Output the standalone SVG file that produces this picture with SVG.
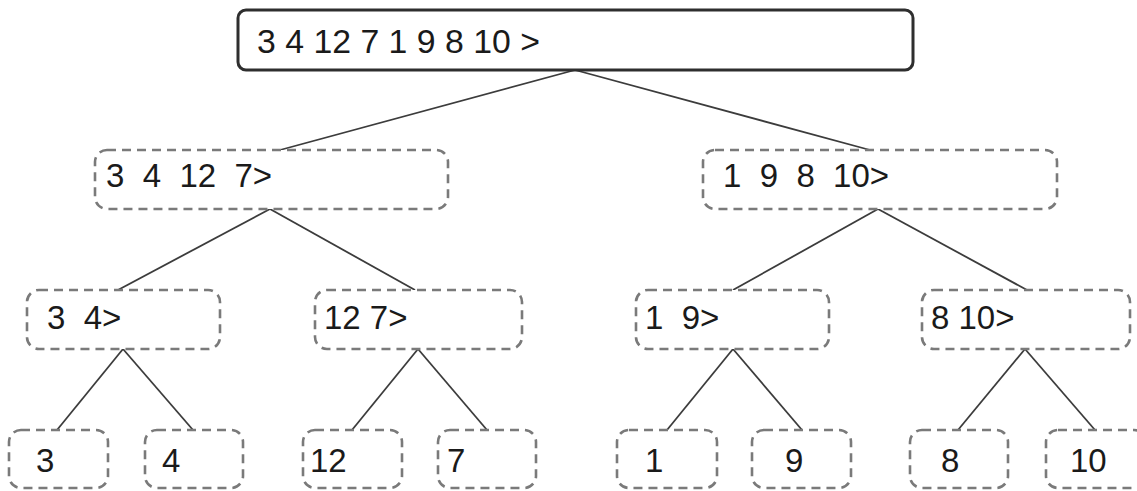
<svg xmlns="http://www.w3.org/2000/svg" width="1137" height="491" viewBox="0 0 1137 491">
  <style>
    .bg { fill: #ffffff; }
    .root { fill: #ffffff; stroke: #2e2e2e; stroke-width: 3; }
    .part { fill: #ffffff; stroke: #7a7a7a; stroke-width: 2.6; stroke-dasharray: 9 6; }
    .lbl { font-family: "Liberation Sans", Arial, sans-serif; font-size: 33px; fill: #1a1a1a; white-space: pre; }
    .edge { stroke: #3c3c3c; stroke-width: 1.8; fill: none; }
  </style>
  <rect class="bg" x="0" y="0" width="1137" height="491"/>

  <!-- edges of the split tree -->
  <g id="connectors">
    <line class="edge" x1="575" y1="70" x2="280" y2="150"/>
    <line class="edge" x1="575" y1="70" x2="870" y2="150"/>
    <line class="edge" x1="270" y1="209" x2="118" y2="290"/>
    <line class="edge" x1="270" y1="209" x2="415" y2="290"/>
    <line class="edge" x1="878" y1="209" x2="733" y2="290"/>
    <line class="edge" x1="878" y1="209" x2="1027" y2="290"/>
    <line class="edge" x1="123" y1="349" x2="57" y2="430"/>
    <line class="edge" x1="123" y1="349" x2="193" y2="430"/>
    <line class="edge" x1="418" y1="349" x2="352" y2="430"/>
    <line class="edge" x1="418" y1="349" x2="487" y2="430"/>
    <line class="edge" x1="733" y1="349" x2="667" y2="430"/>
    <line class="edge" x1="733" y1="349" x2="802" y2="430"/>
    <line class="edge" x1="1025" y1="349" x2="958" y2="430"/>
    <line class="edge" x1="1025" y1="349" x2="1095" y2="430"/>
  </g>

  <!-- full sequence -->
  <g id="n-root">
    <rect class="root" x="238" y="10" width="675" height="60" rx="8"/>
    <text class="lbl" x="257" y="53" font-size="35" textLength="283" lengthAdjust="spacingAndGlyphs">3 4 12 7 1 9 8 10 &gt;</text>
  </g>

  <!-- first split -->
  <g id="n-3-4-12-7">
    <rect class="part" x="95" y="150" width="353" height="59" rx="12"/>
    <text class="lbl" x="106" y="187">3  4  12  7&gt;</text>
  </g>
  <g id="n-1-9-8-10">
    <rect class="part" x="703" y="150" width="354" height="59" rx="12"/>
    <text class="lbl" x="723" y="187">1  9  8  10&gt;</text>
  </g>

  <!-- second split -->
  <g id="n-3-4">
    <rect class="part" x="27" y="290" width="193" height="59" rx="12"/>
    <text class="lbl" x="47" y="329">3  4&gt;</text>
  </g>
  <g id="n-12-7">
    <rect class="part" x="315" y="290" width="207" height="59" rx="12"/>
    <text class="lbl" x="324" y="329">12 7&gt;</text>
  </g>
  <g id="n-1-9">
    <rect class="part" x="636" y="290" width="193" height="59" rx="12"/>
    <text class="lbl" x="645" y="329">1  9&gt;</text>
  </g>
  <g id="n-8-10">
    <rect class="part" x="922" y="290" width="208" height="59" rx="12"/>
    <text class="lbl" x="931" y="329">8 10&gt;</text>
  </g>

  <!-- single elements -->
  <g id="n-3">
    <rect class="part" x="9" y="430" width="99" height="58" rx="12"/>
    <text class="lbl" x="36" y="472">3</text>
  </g>
  <g id="n-4">
    <rect class="part" x="145" y="430" width="98" height="58" rx="12"/>
    <text class="lbl" x="162" y="472">4</text>
  </g>
  <g id="n-12">
    <rect class="part" x="303" y="430" width="99" height="58" rx="12"/>
    <text class="lbl" x="310" y="472">12</text>
  </g>
  <g id="n-7">
    <rect class="part" x="438" y="430" width="98" height="58" rx="12"/>
    <text class="lbl" x="447" y="472">7</text>
  </g>
  <g id="n-1">
    <rect class="part" x="617" y="430" width="100" height="58" rx="12"/>
    <text class="lbl" x="645" y="472">1</text>
  </g>
  <g id="n-9">
    <rect class="part" x="752" y="430" width="99" height="58" rx="12"/>
    <text class="lbl" x="785" y="472">9</text>
  </g>
  <g id="n-8">
    <rect class="part" x="910" y="430" width="98" height="58" rx="12"/>
    <text class="lbl" x="941" y="472">8</text>
  </g>
  <g id="n-10">
    <rect class="part" x="1046" y="430" width="100" height="58" rx="12"/>
    <text class="lbl" x="1070" y="472">10</text>
  </g>
</svg>
